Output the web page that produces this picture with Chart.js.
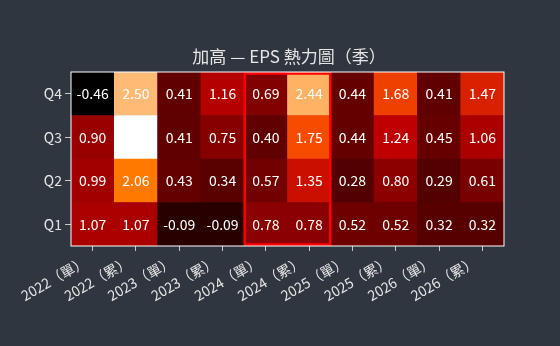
<!DOCTYPE html>
<html>
<head>
<meta charset="utf-8">
<script src="https://cdn.jsdelivr.net/npm/chart.js@4/dist/chart.umd.min.js"></script>
<style>
  html, body { margin: 0; padding: 0; background: #2f363f; }
  #wrap { width: 560px; height: 346px; }
</style>
</head>
<body>
<div id="wrap"><canvas id="heatChart"></canvas></div>
<script>
// columns and rows
const columns = ['2022（單）', '2022（累）', '2023（單）', '2023（累）', '2024（單）',
  '2024（累）', '2025（單）', '2025（累）', '2026（單）', '2026（累）'];
const rowLabels = ['Q1', 'Q2', 'Q3', 'Q4'];
const titleText = '加高 — EPS 熱力圖（季）';

// EPS values per quarter, one entry per column
const q1 = [1.07, 1.07, -0.09, -0.09, 0.78, 0.78, 0.52, 0.52, 0.32, 0.32];
const q2 = [0.99, 2.06, 0.43, 0.34, 0.57, 1.35, 0.28, 0.80, 0.29, 0.61];
const q3 = [0.90, 2.96, 0.41, 0.75, 0.40, 1.75, 0.44, 1.24, 0.45, 1.06];
const q4 = [-0.46, 2.50, 0.41, 1.16, 0.69, 2.44, 0.44, 1.68, 0.41, 1.47];
const rows = [q1, q2, q3, q4];

// highlighted year (both columns)
const highlightCols = [4, 5];

const allVals = rows.flat();
const vmin = Math.min(...allVals);
const vmax = Math.max(...allVals);

// matplotlib gist_heat colormap
function heatColor(v) {
  const t = (v - vmin) / (vmax - vmin);
  const clip = (a) => Math.max(0, Math.min(1, a));
  const r = clip(1.5 * t), g = clip(2 * t - 1), b = clip(4 * t - 3);
  return 'rgb(' + Math.round(r * 255) + ',' + Math.round(g * 255) + ',' + Math.round(b * 255) + ')';
}

const FONT = '"Noto Sans CJK TC", "Noto Sans", sans-serif';

const heatPlugin = {
  id: 'heatText',
  afterDatasetsDraw(chart) {
    const ctx = chart.ctx;
    const area = chart.chartArea;
    ctx.save();
    ctx.font = '14px ' + FONT;
    ctx.fillStyle = '#ffffff';
    ctx.textAlign = 'center';
    ctx.textBaseline = 'middle';
    chart.data.datasets.forEach((ds, di) => {
      chart.getDatasetMeta(di).data.forEach((bar, i) => {
        const p = bar.getCenterPoint();
        ctx.fillText(rows[di][i].toFixed(2), p.x, p.y);
      });
    });

    // red box around the highlighted year
    const xs = chart.scales.x;
    const w = xs.getPixelForValue(1) - xs.getPixelForValue(0);
    const x0 = xs.getPixelForValue(highlightCols[0]) - w / 2;
    const x1 = xs.getPixelForValue(highlightCols[highlightCols.length - 1]) + w / 2;
    ctx.strokeStyle = '#ff0000';
    ctx.lineWidth = 2.5;
    ctx.strokeRect(x0 + 0.5, area.top + 1.5, x1 - x0 - 1, area.bottom - area.top - 3);

    // white frame
    ctx.strokeStyle = '#ffffff';
    ctx.lineWidth = 1;
    ctx.strokeRect(area.left, area.top, area.right - area.left, area.bottom - area.top);

    // title, centred on the figure
    ctx.font = '17px ' + FONT;
    ctx.fillStyle = '#e6e6e6';
    ctx.fillText(titleText, 289, 57);
    ctx.restore();
  }
};

document.addEventListener('DOMContentLoaded', function () {
  const datasets = rows.map((vals, ri) => ({
    label: rowLabels[ri],
    data: vals.map(() => 1),
    backgroundColor: vals.map(heatColor),
    borderWidth: 0,
    barPercentage: 1,
    categoryPercentage: 1,
  }));

  new Chart(document.getElementById('heatChart'), {
    type: 'bar',
    data: { labels: columns, datasets: datasets },
    plugins: [heatPlugin],
    options: {
      responsive: true,
      maintainAspectRatio: false,
      animation: false,
      layout: { padding: { left: 0, right: 56, top: 72, bottom: 0 } },
      plugins: {
        legend: { display: false },
        tooltip: { enabled: false },
        title: { display: false },
      },
      scales: {
        x: {
          stacked: true,
          grid: { display: true, drawOnChartArea: false, offset: false, tickLength: 5, color: '#c8c8c8' },
          border: { display: false },
          ticks: {
            color: '#e6e6e6',
            font: { family: FONT, size: 14 },
            minRotation: 30,
            maxRotation: 30,
            padding: 2,
            labelOffset: -7,
            autoSkip: false,
          },
          afterFit: function (scale) { scale.height = 100; },
        },
        y: {
          stacked: true,
          min: 0,
          max: 4,
          grid: { display: true, drawOnChartArea: false, tickLength: 6, color: '#c8c8c8' },
          border: { display: false },
          afterBuildTicks: function (scale) {
            scale.ticks = [0.5, 1.5, 2.5, 3.5].map((v) => ({ value: v }));
          },
          ticks: {
            color: '#e6e6e6',
            font: { family: FONT, size: 14 },
            padding: 3,
            callback: function (value) { return rowLabels[Math.floor(value)]; },
          },
          afterFit: function (scale) { scale.width = 71; },
        },
      },
    },
  });
});
</script>
</body>
</html>
